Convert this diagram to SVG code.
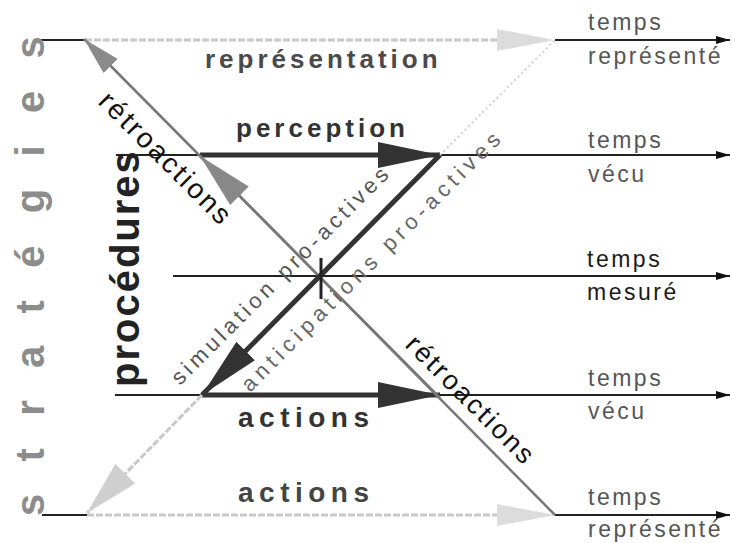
<svg xmlns="http://www.w3.org/2000/svg" width="732" height="543" viewBox="0 0 732 543">
<style>
text { font-family: "Liberation Sans", Arial, sans-serif; }
.big { font-weight: bold; }
.time { font-size: 23px; letter-spacing: 2.5px; fill: #555; }
.timeK { font-size: 23px; letter-spacing: 2.5px; fill: #1a1a1a; }
.thin { stroke: #222; stroke-width: 2; fill: none; }
.thick { stroke: #333; stroke-width: 5; fill: none; }
.gray { stroke: #777; stroke-width: 2.5; fill: none; }
.light { stroke: #c8c8c8; stroke-width: 3; fill: none; stroke-dasharray: 7 2; }
.lightdot { stroke: #cfcfcf; stroke-width: 2; fill: none; stroke-dasharray: 2 3; }
</style>
<defs>
<marker id="aSmall" viewBox="0 0 14 8" refX="14" refY="4" markerWidth="14" markerHeight="8" markerUnits="userSpaceOnUse" orient="auto"><path d="M0,0 L14,4 L0,8 z" fill="#111"/></marker>
<marker id="aDark" viewBox="0 0 62 26" refX="62" refY="13" markerWidth="62" markerHeight="26" markerUnits="userSpaceOnUse" orient="auto"><path d="M0,0 L62,13 L0,26 z" fill="#333"/></marker>
<marker id="aGray" viewBox="0 0 56 26" refX="56" refY="13" markerWidth="56" markerHeight="26" markerUnits="userSpaceOnUse" orient="auto"><path d="M0,0 L56,13 L0,26 z" fill="#888"/></marker>
<marker id="aGrayS" viewBox="0 0 38 20" refX="38" refY="10" markerWidth="38" markerHeight="20" markerUnits="userSpaceOnUse" orient="auto"><path d="M0,0 L38,10 L0,20 z" fill="#8a8a8a"/></marker>
<marker id="aLight" viewBox="0 0 55 28" refX="55" refY="14" markerWidth="55" markerHeight="28" markerUnits="userSpaceOnUse" orient="auto"><path d="M0,0 L55,14 L0,28 z" fill="#cfcfcf"/></marker>
</defs>
<rect width="732" height="543" fill="#fff"/>

<g id="connectors">
  <line class="thin" x1="40" y1="40" x2="85" y2="40"/>
  <line class="light" x1="85" y1="40" x2="500" y2="40"/>
  <polygon points="497,29 555,40 497,51" fill="#dcdcdc"/>
  <line class="thin" x1="555" y1="40" x2="730" y2="40" marker-end="url(#aSmall)"/>
  <line class="thin" x1="116" y1="155" x2="730" y2="155" marker-end="url(#aSmall)"/>
  <line class="thick" x1="200" y1="155" x2="440" y2="155" marker-end="url(#aDark)"/>
  <line class="thin" x1="173" y1="276" x2="730" y2="276" marker-end="url(#aSmall)"/>
  <line class="thin" x1="115" y1="395" x2="730" y2="395" marker-end="url(#aSmall)"/>
  <line class="thick" x1="202" y1="395" x2="440" y2="395" marker-end="url(#aDark)"/>
  <line class="thin" x1="42" y1="515" x2="87" y2="515"/>
  <line class="light" x1="87" y1="515" x2="500" y2="515"/>
  <polygon points="497,504 555,515 497,526" fill="#dcdcdc"/>
  <line class="thin" x1="555" y1="515" x2="730" y2="515" marker-end="url(#aSmall)"/>
  <line class="gray" x1="555" y1="515" x2="200" y2="156" stroke-width="2"/>
  <line class="gray" x1="200" y1="156" x2="84" y2="39" marker-end="url(#aGrayS)"/>
  <line class="gray" x1="440" y1="398" x2="200" y2="156" marker-end="url(#aGray)"/>
  <line class="thick" x1="440" y1="155" x2="202" y2="395" stroke-width="4" marker-end="url(#aDark)"/>
  <line class="light" x1="202" y1="395" x2="87" y2="513" stroke-width="2.5" marker-end="url(#aLight)"/>
  <line class="lightdot" x1="440" y1="155" x2="555" y2="40"/>
  <line x1="321" y1="258" x2="321" y2="299" stroke="#222" stroke-width="3"/>
</g>

<g id="strategies">
  <text class="big" transform="translate(44,516) rotate(-90)" font-size="40" letter-spacing="32.3" fill="#8c8c8c">stratégies</text>
</g>
<g id="procedures">
  <text class="big" transform="translate(139,387) rotate(-90)" font-size="40" letter-spacing="2" fill="#222">procédures</text>
</g>
<g id="representation">
  <text class="big" x="205" y="68" font-size="26" letter-spacing="4" fill="#4a4a4a">représentation</text>
</g>
<g id="perception">
  <text class="big" x="236" y="137" font-size="26" letter-spacing="4" fill="#333">perception</text>
</g>
<g id="actions1">
  <text class="big" x="238" y="427" font-size="28" letter-spacing="5.5" fill="#333">actions</text>
</g>
<g id="actions2">
  <text class="big" x="238" y="502" font-size="28" letter-spacing="5.5" fill="#444">actions</text>
</g>
<g id="retroactions1">
  <text transform="translate(97,103) rotate(45)" font-size="28" letter-spacing="2.5" fill="#111">rétroactions</text>
</g>
<g id="retroactions2">
  <text transform="translate(404,346) rotate(45)" font-size="27" letter-spacing="2.5" fill="#111">rétroactions</text>
</g>
<g id="simulation">
  <text transform="translate(180,386) rotate(-45)" font-size="22" letter-spacing="4" fill="#555">simulation pro-actives</text>
</g>
<g id="anticipations">
  <text transform="translate(250,393) rotate(-45)" font-size="22" letter-spacing="5" fill="#666">anticipations pro-actives</text>
</g>

<g id="t-represente-top">
  <text class="time" x="588" y="30">temps</text>
  <text class="time" x="588" y="64">représenté</text>
</g>
<g id="t-vecu-top">
  <text class="time" x="588" y="148">temps</text>
  <text class="time" x="588" y="182">vécu</text>
</g>
<g id="t-mesure">
  <text class="timeK" x="587" y="267">temps</text>
  <text class="timeK" x="587" y="300">mesuré</text>
</g>
<g id="t-vecu-bottom">
  <text class="time" x="588" y="386">temps</text>
  <text class="time" x="588" y="419">vécu</text>
</g>
<g id="t-represente-bottom">
  <text class="time" x="588" y="505">temps</text>
  <text class="time" x="588" y="537">représenté</text>
</g>
</svg>
